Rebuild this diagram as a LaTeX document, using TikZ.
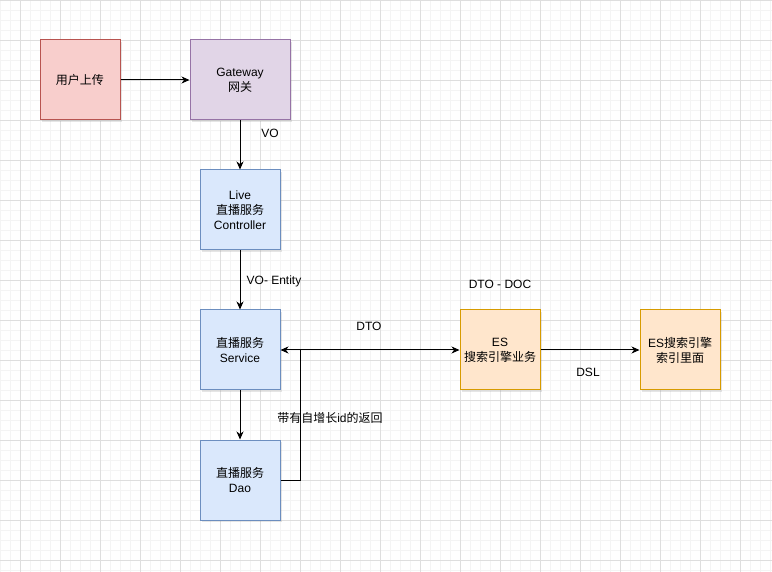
\documentclass[tikz,border=0pt]{standalone}
\usepackage{fontspec}
\setmainfont{Liberation Sans}
\newfontfamily\cjk{Noto Sans CJK SC}
\usetikzlibrary{arrows.meta,shadows}
\definecolor{RedFill}{HTML}{F8CECC}
\definecolor{RedLine}{HTML}{B85450}
\definecolor{PurpleFill}{HTML}{E1D5E7}
\definecolor{PurpleLine}{HTML}{9673A6}
\definecolor{BlueFill}{HTML}{DAE8FC}
\definecolor{BlueLine}{HTML}{6C8EBF}
\definecolor{OrangeFill}{HTML}{FFE6CC}
\definecolor{OrangeLine}{HTML}{D79B00}
\definecolor{GridMinor}{HTML}{F4F4F4}
\definecolor{GridMajor}{HTML}{DEDEDE}
\newcommand{\zh}[1]{{\cjk #1}}

\tikzset{
  box/.style={draw, line width=1pt, minimum width=80pt, minimum height=80pt,
    align=center, font=\fontsize{12}{15}\selectfont,
    drop shadow={shadow xshift=2pt, shadow yshift=-2pt, opacity=0.2}},
  redbox/.style={box, fill=RedFill, draw=RedLine},
  purplebox/.style={box, fill=PurpleFill, draw=PurpleLine},
  bluebox/.style={box, fill=BlueFill, draw=BlueLine},
  orangebox/.style={box, fill=OrangeFill, draw=OrangeLine},
  lbl/.style={font=\fontsize{12}{15}\selectfont, inner sep=1pt},
  link/.style={line width=1pt, draw=black},
  >={Stealth[length=8pt,width=7pt,inset=2.5pt]}
}

\begin{document}
\begin{tikzpicture}[x=1pt,y=-1pt]
  % canvas and grid
  \useasboundingbox (0,0) rectangle (772,572);
  \fill[white] (0,0) rectangle (772,572);
  \foreach \x in {0,10,...,770} \draw[GridMinor, line width=0.8pt] (\x,0) -- (\x,572);
  \foreach \y in {0,10,...,570} \draw[GridMinor, line width=0.8pt] (0,\y) -- (772,\y);
  \foreach \x in {20,60,...,760} \draw[GridMajor, line width=0.8pt] (\x,0) -- (\x,572);
  \foreach \y in {0,40,...,560} \draw[GridMajor, line width=0.8pt] (0,\y) -- (772,\y);

  % boxes
  \node[redbox] (upload) at (80,80) {\zh{用户上传}};
  \node[purplebox, minimum width=100pt] (gateway) at (240,80) {Gateway\\\zh{网关}};
  \node[bluebox] (controller) at (240,210) {Live\\\zh{直播服务}\\Controller};
  \node[bluebox] (service) at (240,350) {\zh{直播服务}\\Service};
  \node[bluebox] (dao) at (240,480) {\zh{直播服务}\\Dao};
  \node[orangebox] (esbiz) at (500,350) {ES\\\zh{搜索引擎业务}};
  \node[orangebox] (esindex) at (680,350) {ES\zh{搜索引擎}\\\zh{索引里面}};

  % connectors
  \draw[link, ->] (upload) -- (gateway);
  \draw[link, ->] (gateway) -- (controller);
  \draw[link, ->] (controller) -- (service);
  \draw[link, ->] (service) -- (dao);
  \draw[link, <->] (service) -- (esbiz);
  \draw[link, ->] (esbiz) -- (esindex);
  \coordinate (join) at (300,350);
  \draw[link] (dao.east) -| (join);

  % labels
  \node[lbl] (vo) at (270,133) {VO};
  \node[lbl] (voentity) at (274,281) {VO- Entity};
  \node[lbl] (dto) at (369,326) {DTO};
  \node[lbl] (dtodoc) at (500,284) {DTO - DOC};
  \node[lbl] (dsl) at (588,372) {DSL};
  \node[lbl] (ret) at (330,418) {\zh{带有自增长}id\zh{的返回}};
\end{tikzpicture}
\end{document}
